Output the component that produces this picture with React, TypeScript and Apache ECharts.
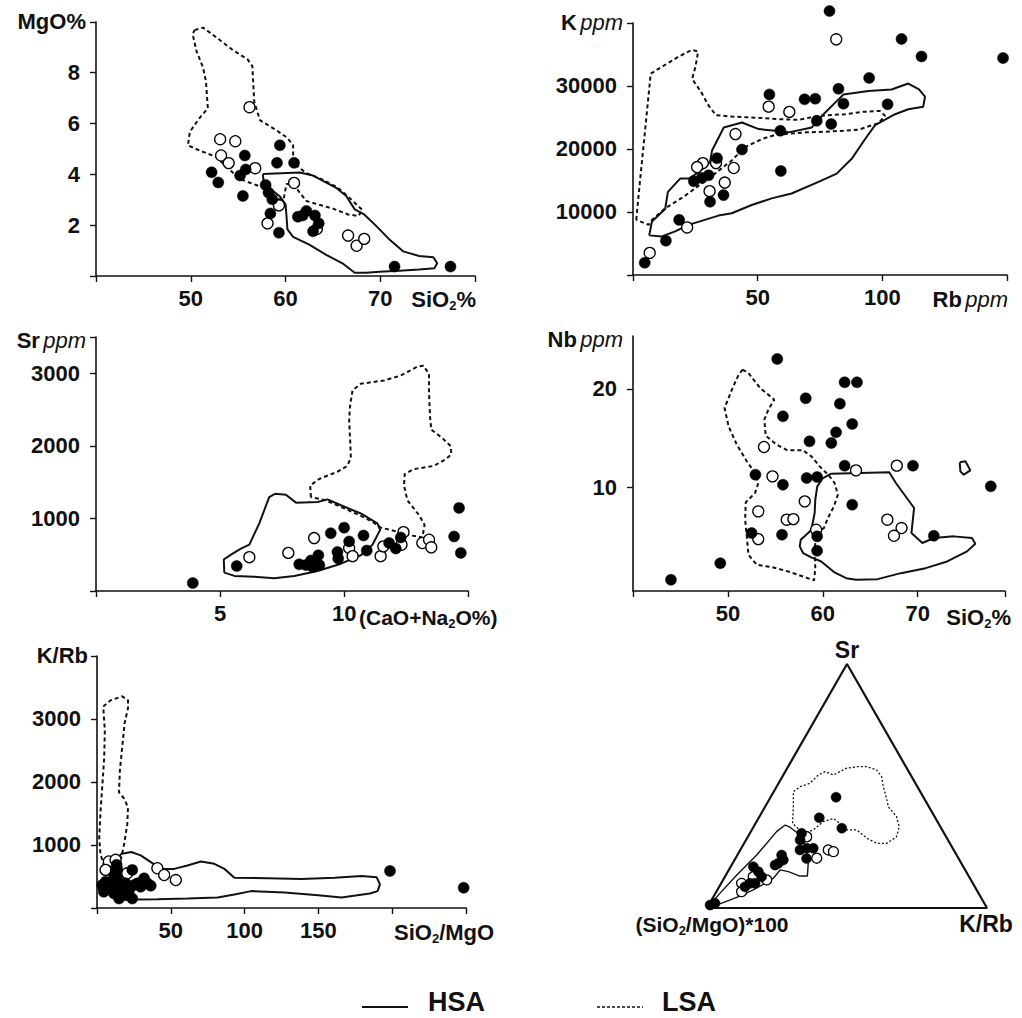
import React, { useEffect, useRef } from "react";
import * as echarts from "echarts";

// ---------- Panel 1: MgO% vs SiO2% ----------
const P1_FILLED = [[52.2,4.08],[52.9,3.68],[55.7,4.74],[55.8,4.19],[55.2,3.95],[55.5,3.15],[59.4,5.14],[59.1,4.45],[60.9,4.45],[57.9,3.58],[58.2,3.28],[58.6,3.02],[58.4,2.46],[59.3,1.70],[61.3,2.33],[61.8,2.38],[62.2,2.56],[63.1,2.38],[63.5,2.07],[62.9,1.76],[71.5,0.37],[77.4,0.37]];
const P1_OPEN = [[56.2,6.64],[53.1,5.38],[54.7,5.30],[53.2,4.74],[54.0,4.44],[56.8,4.24],[60.9,3.66],[59.3,2.78],[58.1,2.07],[63.3,1.85],[66.6,1.59],[67.5,1.19],[68.3,1.46]];
const P1_HSA = [[57.6,4.01],[61.5,4.07],[62.9,3.95],[65.3,3.48],[66.4,3.15],[67.3,2.62],[68.3,2.42],[69.4,2.03],[70.9,1.46],[72.4,0.97],[74.1,0.79],[75.6,0.74],[76.0,0.50],[75.7,0.30],[74.1,0.26],[72.0,0.21],[69.9,0.17],[68.5,0.13],[67.3,0.13],[66.0,0.50],[64.3,0.83],[62.5,1.23],[60.8,1.54],[60.2,1.83],[60.1,2.36],[60.0,2.82],[59.4,3.13],[58.3,3.46],[57.7,3.68]];
const P1_LSA = [[50.4,9.67],[51.3,9.77],[52.5,9.44],[54.5,8.87],[56.0,8.52],[56.5,8.25],[56.6,7.52],[56.7,6.86],[57.3,6.13],[59.0,5.74],[60.2,5.43],[60.8,5.14],[60.8,4.74],[60.9,4.41],[62.2,4.05],[63.8,3.81],[65.5,3.48],[66.7,3.09],[68.1,2.60],[67.7,2.36],[66.6,2.42],[65.0,2.65],[63.4,2.82],[62.2,2.95],[61.5,3.28],[60.8,3.62],[60.1,3.62],[59.8,3.02],[59.2,3.02],[58.0,3.42],[56.6,3.62],[55.2,3.81],[53.8,4.28],[52.7,4.68],[50.9,4.94],[49.7,5.14],[49.9,5.67],[50.9,6.20],[51.8,6.60],[51.6,7.66],[51.3,8.19],[50.6,8.85],[50.2,9.51]];
const P1_X_LABELS = [50, 60, 70];
const P1_Y_LABELS = [2, 4, 6, 8];

// ---------- Panel 2: K ppm vs Rb ppm ----------
const P2_FILLED = [[78.8,41900],[107.7,37470],[115.7,34690],[148.4,34430],[94.7,31280],[82.4,29550],[54.7,28660],[68.8,27880],[73.1,27980],[84.4,27200],[102.1,27090],[73.7,24470],[79.5,23950],[59.1,22900],[43.7,19910],[33.7,18550],[24.4,14880],[27.6,15400],[30.3,15820],[30.9,11630],[36.3,12680],[59.3,16510],[18.5,8750],[13.2,5450],[4.7,1940]];
const P2_OPEN = [[81.5,37410],[54.4,26720],[62.7,25890],[41.1,22370],[40.4,16980],[36.8,14670],[30.7,13310],[33.3,17760],[28.0,17760],[25.7,17130],[21.7,7550],[6.7,3510]];
const P2_HSA = [[6.5,6290],[7.6,8490],[12.9,10480],[14.0,13200],[18.9,15300],[22.4,15300],[26.4,16350],[30.9,17920],[31.7,19750],[36.4,23420],[43.7,24210],[50.4,23160],[57.1,22900],[62.4,22640],[71.7,23420],[76.4,25520],[82.4,27880],[84.4,28660],[94.4,29190],[103.7,29450],[110.4,30390],[114.7,29450],[117.1,28300],[116.4,26720],[110.4,26300],[105.1,25520],[97.1,23790],[93.1,21590],[87.7,18440],[81.7,16090],[74.4,14780],[63.6,12940],[55.6,12160],[47.6,11110],[39.6,9800],[34.3,9430],[22.3,7960],[16.9,6920],[11.6,6130]];
const P2_LSA = [[1.3,8750],[2.9,15300],[4.9,23160],[7.1,31960],[18.4,34690],[23.7,35740],[26.1,35470],[25.1,33120],[23.7,31130],[27.1,29190],[30.4,26830],[33.3,25360],[39.7,25150],[50.4,24940],[59.1,24730],[66.4,24630],[74.4,25260],[85.1,25520],[91.7,25890],[99.1,26040],[101.1,25260],[98.4,24100],[90.4,23060],[79.7,22790],[69.1,22640],[56.9,22220],[51.7,21590],[44.9,20280],[39.6,18180],[30.3,15300],[20.3,12420],[12.9,10580],[7.6,8750],[6.3,7960]];
const P2_X_LABELS = [50, 100];
const P2_Y_LABELS = [10000, 20000, 30000];

// ---------- Panel 3: Sr ppm vs (CaO+Na2O%) ----------
const P3_FILLED = [[3.90,109],[5.67,344],[8.19,367],[8.46,357],[8.66,421],[8.96,493],[8.73,330],[9.00,357],[9.46,796],[10.00,873],[10.20,683],[10.78,765],[9.73,538],[9.76,448],[10.91,557],[11.81,661],[12.08,584],[12.28,738],[14.63,1145],[14.43,751],[14.70,525]];
const P3_OPEN = [[6.18,466],[7.75,525],[8.79,729],[10.20,593],[10.34,480],[11.47,480],[11.58,615],[12.39,810],[12.31,638],[13.15,661],[13.42,706],[13.51,602]];
const P3_HSA = [[5.17,253],[5.15,434],[5.44,502],[5.84,584],[6.18,638],[6.58,932],[6.98,1294],[7.21,1339],[7.65,1326],[8.06,1217],[8.93,1226],[9.33,1262],[9.87,1181],[10.67,1068],[11.34,932],[11.45,842],[11.14,638],[10.67,493],[9.87,376],[8.93,276],[7.99,208],[7.18,176],[6.38,195],[5.58,208]];
const P3_LSA = [[8.66,1294],[8.63,1453],[8.99,1543],[9.73,1643],[10.13,1724],[10.27,1837],[10.24,2086],[10.20,2358],[10.24,2561],[10.34,2765],[10.67,2855],[11.61,2901],[12.28,2968],[12.95,3091],[13.19,3104],[13.42,2991],[13.42,2720],[13.46,2403],[13.51,2222],[13.95,2109],[14.29,1996],[14.32,1882],[14.09,1815],[13.62,1724],[12.81,1679],[12.44,1611],[12.41,1453],[12.55,1249],[13.02,1045],[13.24,910],[13.15,738],[12.55,774],[12.14,819],[11.47,873],[11.14,955],[10.67,1036],[9.87,1158],[9.26,1249]];
const P3_X_LABELS = [5, 10];
const P3_Y_LABELS = [1000, 2000, 3000];

// ---------- Panel 4: Nb ppm vs SiO2% ----------
const P4_FILLED = [[44.0,0.54],[49.2,2.24],[55.2,23.06],[62.3,20.68],[63.6,20.68],[58.2,19.05],[61.8,18.50],[55.8,17.21],[63.1,16.43],[61.4,15.58],[58.6,14.66],[60.9,14.49],[62.3,12.18],[69.5,12.18],[52.9,11.26],[58.3,10.92],[59.4,11.02],[55.8,10.24],[77.7,10.07],[63.1,8.20],[52.5,5.31],[55.7,5.14],[59.4,4.97],[59.4,3.50],[71.7,5.03]];
const P4_OPEN = [[53.8,14.08],[54.7,11.09],[63.5,11.70],[67.8,12.18],[58.1,8.54],[53.2,7.52],[56.2,6.67],[56.9,6.73],[59.3,5.65],[53.2,4.69],[66.8,6.67],[68.3,5.82],[67.5,5.03]];
const P4_HSA = [[60.89,11.36],[67.00,11.50],[67.70,10.41],[69.62,7.86],[69.34,5.31],[70.49,4.29],[71.71,4.80],[73.80,4.97],[75.72,4.80],[76.07,4.22],[75.20,3.44],[73.11,2.41],[70.84,1.73],[68.22,1.22],[65.78,0.61],[63.51,0.54],[62.46,0.71],[61.24,1.29],[59.84,2.41],[58.73,2.86],[57.92,3.27],[57.57,3.95],[57.68,4.63],[58.45,5.31],[58.80,5.65],[59.14,7.35],[59.21,8.71],[59.42,10.07],[60.02,10.92]];
const P4_HSA_SMALL = [[74.43,12.52],[75.03,12.62],[75.55,11.70],[74.85,11.26],[74.50,11.60]];
const P4_LSA = [[51.54,21.97],[52.16,21.63],[53.39,20.10],[54.89,18.91],[54.26,17.89],[53.84,16.87],[53.98,15.24],[55.13,14.32],[56.28,13.74],[57.92,13.74],[58.80,13.13],[59.67,12.11],[60.72,11.09],[61.24,10.41],[61.59,9.22],[61.17,8.03],[60.54,6.84],[60.12,5.82],[59.32,5.31],[59.14,3.61],[59.21,1.73],[59.08,0.48],[57.92,0.88],[56.35,1.39],[54.61,1.84],[53.04,2.07],[52.16,3.10],[51.99,4.97],[51.82,6.67],[51.88,8.44],[52.86,9.39],[53.21,10.41],[52.86,11.43],[51.99,12.62],[50.94,14.32],[50.07,16.19],[49.65,18.06],[50.42,19.93],[51.05,21.29]];
const P4_X_LABELS = [50, 60, 70];
const P4_Y_LABELS = [10, 20];

// ---------- Panel 5: K/Rb vs SiO2/MgO ----------
const P5_FILLED = [[4.6,310],[3.5,364],[4.6,257],[5.8,417],[9.2,364],[10.3,420],[11.5,230],[11.5,500],[12.6,330],[12.6,578],[13.3,685],[13.7,471],[13.7,620],[14.9,310],[14.9,150],[17.1,230],[19.4,391],[19.4,203],[21.7,284],[23.9,150],[25.1,364],[23.9,605],[27.3,391],[29.6,337],[31.9,471],[34.1,391],[36.4,353],[198.5,589],[248.4,321]];
const P5_OPEN = [[8.0,738],[12.6,765],[5.8,605],[20.5,551],[40.9,631],[45.5,524],[53.4,444]];
const P5_HSA = [[16.0,856],[23.2,888],[29.6,835],[37.5,712],[43.2,621],[52.3,621],[61.3,674],[70.4,738],[79.5,701],[86.3,621],[93.1,482],[115.8,471],[138.4,460],[161.1,482],[179.3,508],[189.5,487],[191.7,375],[190.1,268],[184.9,230],[165.6,166],[149.8,203],[127.1,246],[104.4,268],[93.1,214],[81.7,166],[61.3,150],[40.9,139],[27.3,134],[18.3,161],[13.7,257],[12.6,471],[14.2,712]];
const P5_LSA = [[4.2,3199],[9.2,3296],[17.1,3360],[21.0,3296],[21.0,3173],[18.7,2932],[17.1,2557],[15.5,2183],[14.9,1835],[18.7,1728],[21.0,1594],[20.5,1327],[18.3,1006],[16.4,792],[11.5,685],[5.1,658],[2.4,845],[1.5,1113],[2.4,1541],[3.7,1969],[4.9,2397],[5.3,2825]];
const P5_X_LABELS = [50, 100, 150];
const P5_Y_LABELS = [1000, 2000, 3000];

// ---------- Panel 6: ternary, each point = [Sr %, K/Rb %]; (SiO2/MgO)*100 % = 100 - both ----------
const T_VERTICES = [[0,0],[0,100],[100,0],[0,0]];
const T_FILLED = [[45.4,23.4],[37.0,21.6],[32.7,31.8],[30.6,18.5],[27.9,19.3],[23.8,21.3],[24.5,23.4],[24.5,25.7],[20.3,25.4],[21.7,15.8],[18.3,16.3],[17.6,15.5],[19.7,17.4],[16.9,8.1],[14.9,10.9],[12.8,13.1],[10.1,10.3],[8.7,9.2],[10.1,12.1],[1.9,1.9],[1.2,0.5]];
const T_OPEN = [[23.8,31.4],[23.1,33.6],[20.4,29.0],[29.2,21.0],[11.5,15.6],[10.1,7.3],[6.7,9.0],[12.8,10.1]];
const T_HSA = [[0,0],[6.0,1.6],[13.5,3.9],[21.7,6.9],[31.3,9.2],[34.0,10.9],[33.1,13.1],[29.9,18.3],[27.9,20.5],[23.8,23.5],[18.3,27.0],[13.1,29.3],[13.1,26.6],[14.9,21.6],[15.6,18.3],[12.2,17.6],[10.1,15.7],[7.4,12.8],[4.9,9.3],[2.2,4.7]];
const T_LSA = [[34.7,13.2],[41.5,10.1],[47.7,7.0],[49.7,8.4],[51.1,11.2],[54.5,12.5],[55.9,14.2],[54.5,17.9],[55.9,19.5],[57.3,21.2],[57.9,24.5],[57.9,28.1],[56.6,32.3],[53.8,35.5],[49.7,38.1],[44.9,41.7],[41.5,44.0],[37.4,49.0],[33.3,52.0],[29.2,53.1],[26.5,50.9],[26.5,47.4],[28.6,42.8],[32.0,37.5],[32.0,33.9],[34.7,30.1],[36.7,26.8],[35.4,23.8],[32.0,22.0],[30.6,19.1]];

const LEGEND = ["HSA", "LSA"];

const INK = "#111111";
const DOT = "#000000";
const FONT = '"Liberation Sans", Arial, Helvetica, sans-serif';
const SQ3 = Math.sqrt(3) / 2;

const tern = (p: number[]) => {
  const sr = p[0] / 100, kr = p[1] / 100;
  return [kr + sr / 2, sr * SQ3];
};
const closed = (a: number[][]) => [...a, a[0]];

const TICK_LABEL = { color: INK, fontSize: 22, fontWeight: "bold", fontFamily: FONT };

function axis(grid: number, min: number, max: number, interval: number, labels: number[], isY: boolean) {
  return {
    type: "value",
    gridIndex: grid,
    min,
    max,
    interval,
    axisLine: { show: true, onZero: false, lineStyle: { color: INK, width: 1.6 } },
    axisTick: { show: true, length: 6, lineStyle: { color: INK, width: 1.4 } },
    axisLabel: {
      margin: isY ? 16 : 11,
      ...TICK_LABEL,
      formatter: (v: number) => (labels.includes(v) ? String(v) : ""),
    },
    splitLine: { show: false },
  };
}

function hiddenAxis(grid: number, min: number, max: number) {
  return { type: "value", gridIndex: grid, min, max, show: false, splitLine: { show: false } };
}

function poly(grid: number, data: number[][], dashed: boolean, width = 2, dash = [4, 3]) {
  return {
    type: "line",
    xAxisIndex: grid,
    yAxisIndex: grid,
    data: closed(data),
    symbol: "none",
    showSymbol: false,
    silent: true,
    clip: false,
    z: 1,
    lineStyle: { color: INK, width, type: dashed ? dash : "solid", opacity: 1 },
  };
}

function dots(grid: number, data: number[][], filled: boolean, size = 11) {
  return {
    type: "scatter",
    xAxisIndex: grid,
    yAxisIndex: grid,
    data,
    symbol: "circle",
    symbolSize: size,
    silent: true,
    clip: false,
    z: filled ? 4 : 3,
    itemStyle: filled
      ? { color: DOT, borderColor: DOT, borderWidth: 0.5, opacity: 1 }
      : { color: "#ffffff", borderColor: DOT, borderWidth: 1.3, opacity: 1 },
  };
}

const RICH = {
  n: { fontSize: 22, fontWeight: "bold", fontFamily: FONT, fill: INK, lineHeight: 26 },
  m: { fontSize: 21, fontWeight: "bold", fontFamily: FONT, fill: INK, lineHeight: 26 },
  s: { fontSize: 13, fontWeight: "bold", fontFamily: FONT, fill: INK, lineHeight: 12, verticalAlign: "bottom" },
  i: { fontSize: 22, fontStyle: "italic", fontFamily: FONT, fill: INK, lineHeight: 26 },
  t: { fontSize: 21, fontWeight: "bold", fontFamily: FONT, fill: INK, lineHeight: 26 },
  T: { fontSize: 23, fontWeight: "bold", fontFamily: FONT, fill: INK, lineHeight: 26 },
  ts: { fontSize: 13, fontWeight: "bold", fontFamily: FONT, fill: INK, lineHeight: 12, verticalAlign: "bottom" },
};

function label(text: string, x: number, y: number, align: string) {
  return {
    type: "text",
    x,
    y,
    silent: true,
    style: { text, rich: RICH, fill: INK, align, verticalAlign: "middle", fontFamily: FONT },
  };
}

export default function App() {
  const ref = useRef<HTMLDivElement>(null);
  useEffect(() => {
    if (!ref.current) return;
    const chart = echarts.init(ref.current, null, { renderer: "svg" });
    const option: any = {
      animation: false,
      backgroundColor: "#ffffff",
      grid: [
        { left: 96, top: 22, width: 379, height: 254 },
        { left: 633, top: 23, width: 374, height: 252 },
        { left: 96, top: 337, width: 372, height: 254 },
        { left: 633, top: 336, width: 372, height: 255 },
        { left: 97, top: 656, width: 369, height: 252 },
        { left: 707, top: 664, width: 280, height: 244 },
      ],
      xAxis: [
        axis(0, 40, 79.99, 10, P1_X_LABELS, false),
        axis(1, 0, 149.99, 50, P2_X_LABELS, false),
        axis(2, 0, 14.99, 5, P3_X_LABELS, false),
        axis(3, 40, 79.2, 10, P4_X_LABELS, false),
        axis(4, 0, 249.99, 50, P5_X_LABELS, false),
        hiddenAxis(5, 0, 1),
      ],
      yAxis: [
        axis(0, 0, 9.99, 2, P1_Y_LABELS, true),
        axis(1, 0, 39999, 10000, P2_Y_LABELS, true),
        axis(2, 0, 3499, 1000, P3_Y_LABELS, true),
        {
          ...axis(3, -0.6, 25.4, 10, P4_Y_LABELS, true),
          interval: undefined,
          axisTick: { show: true, length: 6, lineStyle: { color: INK, width: 1.4 }, customValues: P4_Y_LABELS },
          axisLabel: { margin: 16, ...TICK_LABEL, customValues: P4_Y_LABELS, formatter: (v: number) => String(v) },
        },
        axis(4, 0, 3999.9, 1000, P5_Y_LABELS, true),
        hiddenAxis(5, 0, SQ3),
      ],
      series: [
        poly(0, P1_LSA, true), poly(0, P1_HSA, false), dots(0, P1_OPEN, false), dots(0, P1_FILLED, true),
        poly(1, P2_LSA, true), poly(1, P2_HSA, false), dots(1, P2_OPEN, false), dots(1, P2_FILLED, true),
        poly(2, P3_LSA, true), poly(2, P3_HSA, false), dots(2, P3_OPEN, false), dots(2, P3_FILLED, true),
        poly(3, P4_LSA, true), poly(3, P4_HSA, false), poly(3, P4_HSA_SMALL, false), dots(3, P4_OPEN, false), dots(3, P4_FILLED, true),
        poly(4, P5_LSA, true), poly(4, P5_HSA, false), dots(4, P5_OPEN, false), dots(4, P5_FILLED, true),
        { ...poly(5, T_VERTICES.map(tern), false, 2.2), data: T_VERTICES.map(tern) },
        poly(5, T_LSA.map(tern), true, 1.3, [2, 2]),
        poly(5, T_HSA.map(tern), false, 1.4),
        dots(5, T_OPEN.map(tern), false, 10),
        dots(5, T_FILLED.map(tern), true, 10),
      ],
      graphic: [
        // y-axis names
        label("{n|MgO%}", 86, 21, "right"),
        label("{n|K} {i|ppm}", 623, 22, "right"),
        label("{n|Sr} {i|ppm}", 86, 340, "right"),
        label("{n|Nb} {i|ppm}", 623, 339, "right"),
        label("{n|K/Rb}", 88, 655, "right"),
        // x-axis names
        label("{n|SiO}{s|2}{n|%}", 476, 299, "right"),
        label("{n|Rb} {i|ppm}", 1008, 299, "right"),
        label("{m|(CaO+Na}{s|2}{m|O%)}", 359, 617, "left"),
        label("{n|SiO}{s|2}{n|%}", 1011, 617, "right"),
        label("{n|SiO}{s|2}{n|/MgO}", 394, 932, "left"),
        // ternary apices
        label("{T|Sr}", 847, 650, "center"),
        label("{t|(SiO}{ts|2}{t|/MgO)*100}", 712, 924, "center"),
        label("{T|K/Rb}", 986, 924, "center"),
        // legend
        { type: "line", silent: true, shape: { x1: 362, y1: 1007, x2: 408, y2: 1007 }, style: { stroke: INK, lineWidth: 2 } },
        { type: "text", x: 428, y: 1002, silent: true, style: { text: LEGEND[0], fill: INK, fontSize: 27, lineHeight: 28, fontWeight: "bold", fontFamily: FONT, align: "left", verticalAlign: "middle" } },
        { type: "line", silent: true, shape: { x1: 597, y1: 1007, x2: 643, y2: 1007 }, style: { stroke: INK, lineWidth: 1.5, lineDash: [3, 2] } },
        { type: "text", x: 662, y: 1002, silent: true, style: { text: LEGEND[1], fill: INK, fontSize: 27, lineHeight: 28, fontWeight: "bold", fontFamily: FONT, align: "left", verticalAlign: "middle" } },
      ],
    };
    chart.setOption(option);
    return () => chart.dispose();
  }, []);
  return (
    <div
      ref={ref}
      style={{ position: "absolute", left: 0, top: 0, width: 1022, height: 1018, background: "#fff" }}
    />
  );
}
